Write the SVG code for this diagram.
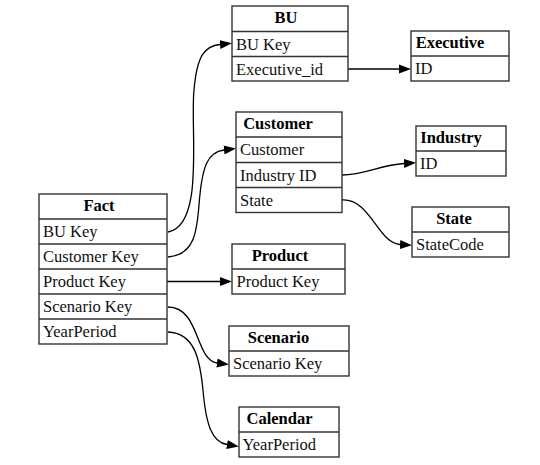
<svg xmlns="http://www.w3.org/2000/svg" width="540" height="465" viewBox="0 0 540 465">
<style>
rect.t{fill:#fff;stroke:#333;stroke-width:1.4}
line.r{stroke:#333;stroke-width:1.4}
text{font-family:"Liberation Serif","Times New Roman",serif;font-size:16.5px;fill:#111}
text.h{font-weight:bold;text-anchor:middle;fill:#000}
path.e{fill:none;stroke:#000;stroke-width:1.3}
</style>
<defs>
<marker id="ah" markerUnits="userSpaceOnUse" viewBox="0 0 12 10" markerWidth="12" markerHeight="10" refX="0" refY="5" orient="auto">
<path d="M0,0.5 L12,5 L0,9.5 z" fill="#000"/>
</marker>
</defs>
<rect width="540" height="465" fill="#fff"/>
<g id="edges">
<path class="e" marker-end="url(#ah)" d="M168,232 C205,225 190,130 194,90 C197,55 205,46 220,44.5"/>
<path class="e" marker-end="url(#ah)" d="M168,257 C195,255 197,230 199,205 C202,165 208,152 224,150"/>
<path class="e" marker-end="url(#ah)" d="M348,69 L399,69"/>
<path class="e" marker-end="url(#ah)" d="M342,175 C365,175 380,165 404,163.5"/>
<path class="e" marker-end="url(#ah)" d="M342,200 C370,198 378,243 400,244.5"/>
<path class="e" marker-end="url(#ah)" d="M167,281.5 L220,281.5"/>
<path class="e" marker-end="url(#ah)" d="M168,307 C200,307 195,360 217,363"/>
<path class="e" marker-end="url(#ah)" d="M168,332 C195,333 200,360 203,390 C206,425 212,442 227,444.5"/>
</g>
<g id="fact">
<rect class="t" x="39" y="194" width="128" height="150"/>
<line class="r" x1="39" y1="219" x2="167" y2="219"/>
<line class="r" x1="39" y1="244" x2="167" y2="244"/>
<line class="r" x1="39" y1="269" x2="167" y2="269"/>
<line class="r" x1="39" y1="294" x2="167" y2="294"/>
<line class="r" x1="39" y1="319" x2="167" y2="319"/>
<text class="h" x="99" y="210.5">Fact</text>
<text x="43" y="236.5">BU Key</text>
<text x="43" y="262">Customer Key</text>
<text x="43" y="287">Product Key</text>
<text x="43" y="312">Scenario Key</text>
<text x="43" y="337">YearPeriod</text>
</g>
<g id="bu">
<rect class="t" x="232" y="6" width="116" height="75"/>
<line class="r" x1="232" y1="31.5" x2="348" y2="31.5"/>
<line class="r" x1="232" y1="56.5" x2="348" y2="56.5"/>
<text class="h" x="286" y="23">BU</text>
<text x="236" y="49.5">BU Key</text>
<text x="236" y="74.5">Executive_id</text>
</g>
<g id="executive">
<rect class="t" x="411" y="31" width="98" height="50"/>
<line class="r" x1="411" y1="56" x2="509" y2="56"/>
<text class="h" x="450" y="48">Executive</text>
<text x="415" y="74">ID</text>
</g>
<g id="customer">
<rect class="t" x="236" y="112" width="106" height="100.5"/>
<line class="r" x1="236" y1="137" x2="342" y2="137"/>
<line class="r" x1="236" y1="162.5" x2="342" y2="162.5"/>
<line class="r" x1="236" y1="187.5" x2="342" y2="187.5"/>
<text class="h" x="278" y="129">Customer</text>
<text x="240" y="155">Customer</text>
<text x="240" y="180.5">Industry ID</text>
<text x="240" y="205.5">State</text>
</g>
<g id="industry">
<rect class="t" x="416" y="126" width="90" height="50"/>
<line class="r" x1="416" y1="151" x2="506" y2="151"/>
<text class="h" x="451" y="143">Industry</text>
<text x="420" y="169">ID</text>
</g>
<g id="state">
<rect class="t" x="412" y="207" width="97" height="50"/>
<line class="r" x1="412" y1="232" x2="509" y2="232"/>
<text class="h" x="454" y="224">State</text>
<text x="416" y="250">StateCode</text>
</g>
<g id="product">
<rect class="t" x="232" y="244" width="113" height="50"/>
<line class="r" x1="232" y1="269" x2="345" y2="269"/>
<text class="h" x="280" y="261">Product</text>
<text x="236.5" y="287">Product Key</text>
</g>
<g id="scenario">
<rect class="t" x="229" y="326" width="120" height="50"/>
<line class="r" x1="229" y1="351" x2="349" y2="351"/>
<text class="h" x="278.5" y="343">Scenario</text>
<text x="233" y="369">Scenario Key</text>
</g>
<g id="calendar">
<rect class="t" x="239" y="407" width="100" height="50"/>
<line class="r" x1="239" y1="432" x2="339" y2="432"/>
<text class="h" x="279.5" y="424">Calendar</text>
<text x="242.5" y="450">YearPeriod</text>
</g>
</svg>
